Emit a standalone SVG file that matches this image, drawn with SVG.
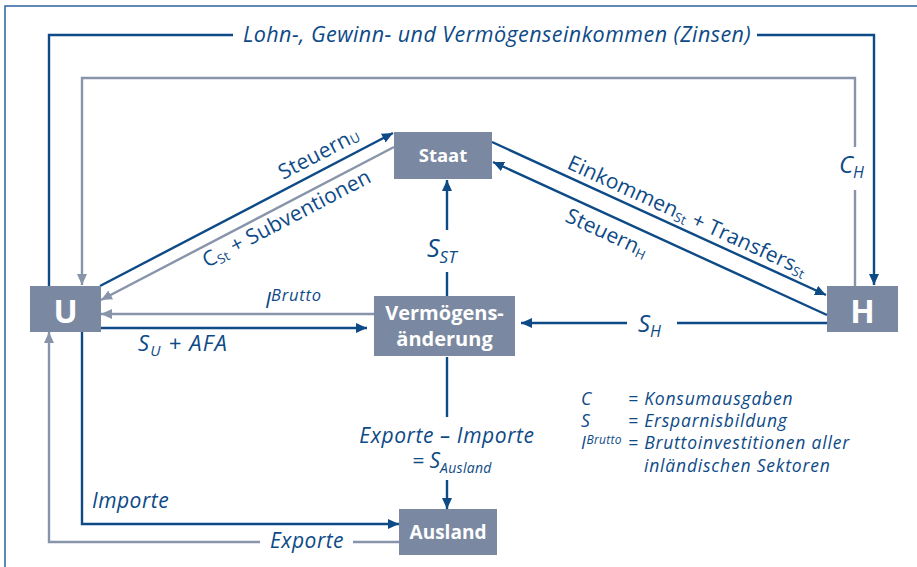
<svg xmlns="http://www.w3.org/2000/svg" width="917" height="567" viewBox="0 0 917 567">
<style>
.dk{fill:none;stroke:#0d4a86;stroke-width:2.4}
.gy{fill:none;stroke:#8794aa;stroke-width:2.4}
.box{fill:#7a89a1}
.bt{fill:#fff;font-family:"Open Sans","Noto Sans",sans-serif;font-weight:bold;text-anchor:middle}
.lb{fill:#0d4a86;font-family:"Open Sans","Noto Sans",sans-serif;font-style:italic}
.rt{fill:#0d4a86;font-family:"Open Sans","Noto Sans",sans-serif;font-size:21px;letter-spacing:0.2px}
.frame{fill:none;stroke:#2a64a0;stroke-width:1.5}
</style>
<defs>
<marker id="ad" markerUnits="userSpaceOnUse" markerWidth="12" markerHeight="10" refX="11" refY="5" orient="auto"><path d="M0,0 L11,5 L0,10 z" fill="#0d4a86"/></marker>
<marker id="ag" markerUnits="userSpaceOnUse" markerWidth="12" markerHeight="10" refX="11" refY="5" orient="auto"><path d="M0,0 L11,5 L0,10 z" fill="#8794aa"/></marker>
</defs>
<rect width="917" height="567" fill="#fff"/>
<path class="frame" d="M5,567 V6 H917"/>
<g id="connectors">
<path class="dk" d="M49,286 V35 H233"/>
<path class="dk" d="M757,35 H874 V285" marker-end="url(#ad)"/>
<path class="gy" d="M855,286 V190"/>
<path class="gy" d="M855,147 V78 H82 V285" marker-end="url(#ag)"/>
<path class="dk" d="M100,286 L393,133" marker-end="url(#ad)"/>
<path class="gy" d="M394,147 L101,300" marker-end="url(#ag)"/>
<path class="dk" d="M492,142 L826,295" marker-end="url(#ad)"/>
<path class="dk" d="M827,315 L493,162" marker-end="url(#ad)"/>
<path class="gy" d="M374,314 H101" marker-end="url(#ag)"/>
<path class="dk" d="M101,328 H367" marker-end="url(#ad)"/>
<path class="dk" d="M827,323 H677"/>
<path class="dk" d="M627,323 H521" marker-end="url(#ad)"/>
<path class="dk" d="M447,296 V272"/>
<path class="dk" d="M447,230 V180" marker-end="url(#ad)"/>
<path class="dk" d="M447,357 V417"/>
<path class="dk" d="M447,480 V509" marker-end="url(#ad)"/>
<path class="dk" d="M82,332 V524 H399" marker-end="url(#ad)"/>
<path class="gy" d="M399,542 H353"/>
<path class="gy" d="M260,542 H49 V332" marker-end="url(#ag)"/>
</g>
<g id="labels">
<text class="lb" x="497" y="42" font-size="21.5" letter-spacing="0.45" text-anchor="middle">Lohn-, Gewinn- und Vermögenseinkommen (Zinsen)</text>
<text class="lb" x="839" y="173" font-size="24">C<tspan font-size="16" dy="5">H</tspan></text>
<text class="rt" x="283" y="180" transform="rotate(-27.6 283 180)">Steuern<tspan font-size="13" dy="1">U</tspan></text>
<text class="rt" x="207" y="268" transform="rotate(-27.6 207 268)">C<tspan font-size="13" dy="3">St</tspan><tspan dy="-3"> + Subventionen</tspan></text>
<text class="rt" x="566" y="168" letter-spacing="0" transform="rotate(24.6 566 168)">Einkommen<tspan font-size="13" dy="3">St</tspan><tspan dy="-3"> + Transfers</tspan><tspan font-size="13" dy="3">St</tspan></text>
<text class="rt" x="564" y="221" transform="rotate(24.6 564 221)">Steuern<tspan font-size="13" dy="3">H</tspan></text>
<text class="lb" x="265" y="308" font-size="22">I<tspan font-size="16.5" letter-spacing="0.8" dy="-7">Brutto</tspan></text>
<text class="lb" x="138" y="351" font-size="22" letter-spacing="1.2">S<tspan font-size="15" dy="5">U</tspan><tspan dy="-5"> + AFA</tspan></text>
<text class="lb" x="638" y="332" font-size="24">S<tspan font-size="16" dy="5">H</tspan></text>
<text class="lb" x="427" y="257" font-size="25">S<tspan font-size="17" dy="6">ST</tspan></text>
<text class="lb" x="447" y="443" font-size="21" letter-spacing="0.6" text-anchor="middle">Exporte – Importe</text>
<text class="lb" x="412" y="468" font-size="21">= S<tspan font-size="14" letter-spacing="0.3" dy="5">Ausland</tspan></text>
<text class="lb" x="92" y="508" font-size="21" letter-spacing="0.5">Importe</text>
<text class="lb" x="270" y="548" font-size="21" letter-spacing="0.5">Exporte</text>
</g>
<g id="legend" class="lb" font-size="17.5" letter-spacing="0.8">
<text x="581" y="405">C</text><text x="628" y="405">= Konsumausgaben</text>
<text x="581" y="427">S</text><text x="628" y="427">= Ersparnisbildung</text>
<text x="581" y="449">I<tspan font-size="12" letter-spacing="0.3" dy="-5">Brutto</tspan></text><text x="628" y="449">= Bruttoinvestitionen aller</text>
<text x="644" y="472">inländischen Sektoren</text>
</g>
<g id="node-U"><rect class="box" x="30" y="286" width="71" height="46"/><text class="bt" x="65.5" y="323" font-size="32">U</text></g>
<g id="node-H"><rect class="box" x="827" y="286" width="71" height="46"/><text class="bt" x="862.5" y="323" font-size="32">H</text></g>
<g id="node-Staat"><rect class="box" x="394" y="132" width="98" height="47"/><text class="bt" x="443" y="162" font-size="18.5">Staat</text></g>
<g id="node-Verm"><rect class="box" x="374" y="296" width="141" height="60"/><text class="bt" x="444.5" y="320" font-size="20">Vermögens-</text><text class="bt" x="444.5" y="346" font-size="20">änderung</text></g>
<g id="node-Ausland"><rect class="box" x="399" y="509" width="98" height="46"/><text class="bt" x="448" y="539" font-size="19">Ausland</text></g>
</svg>
